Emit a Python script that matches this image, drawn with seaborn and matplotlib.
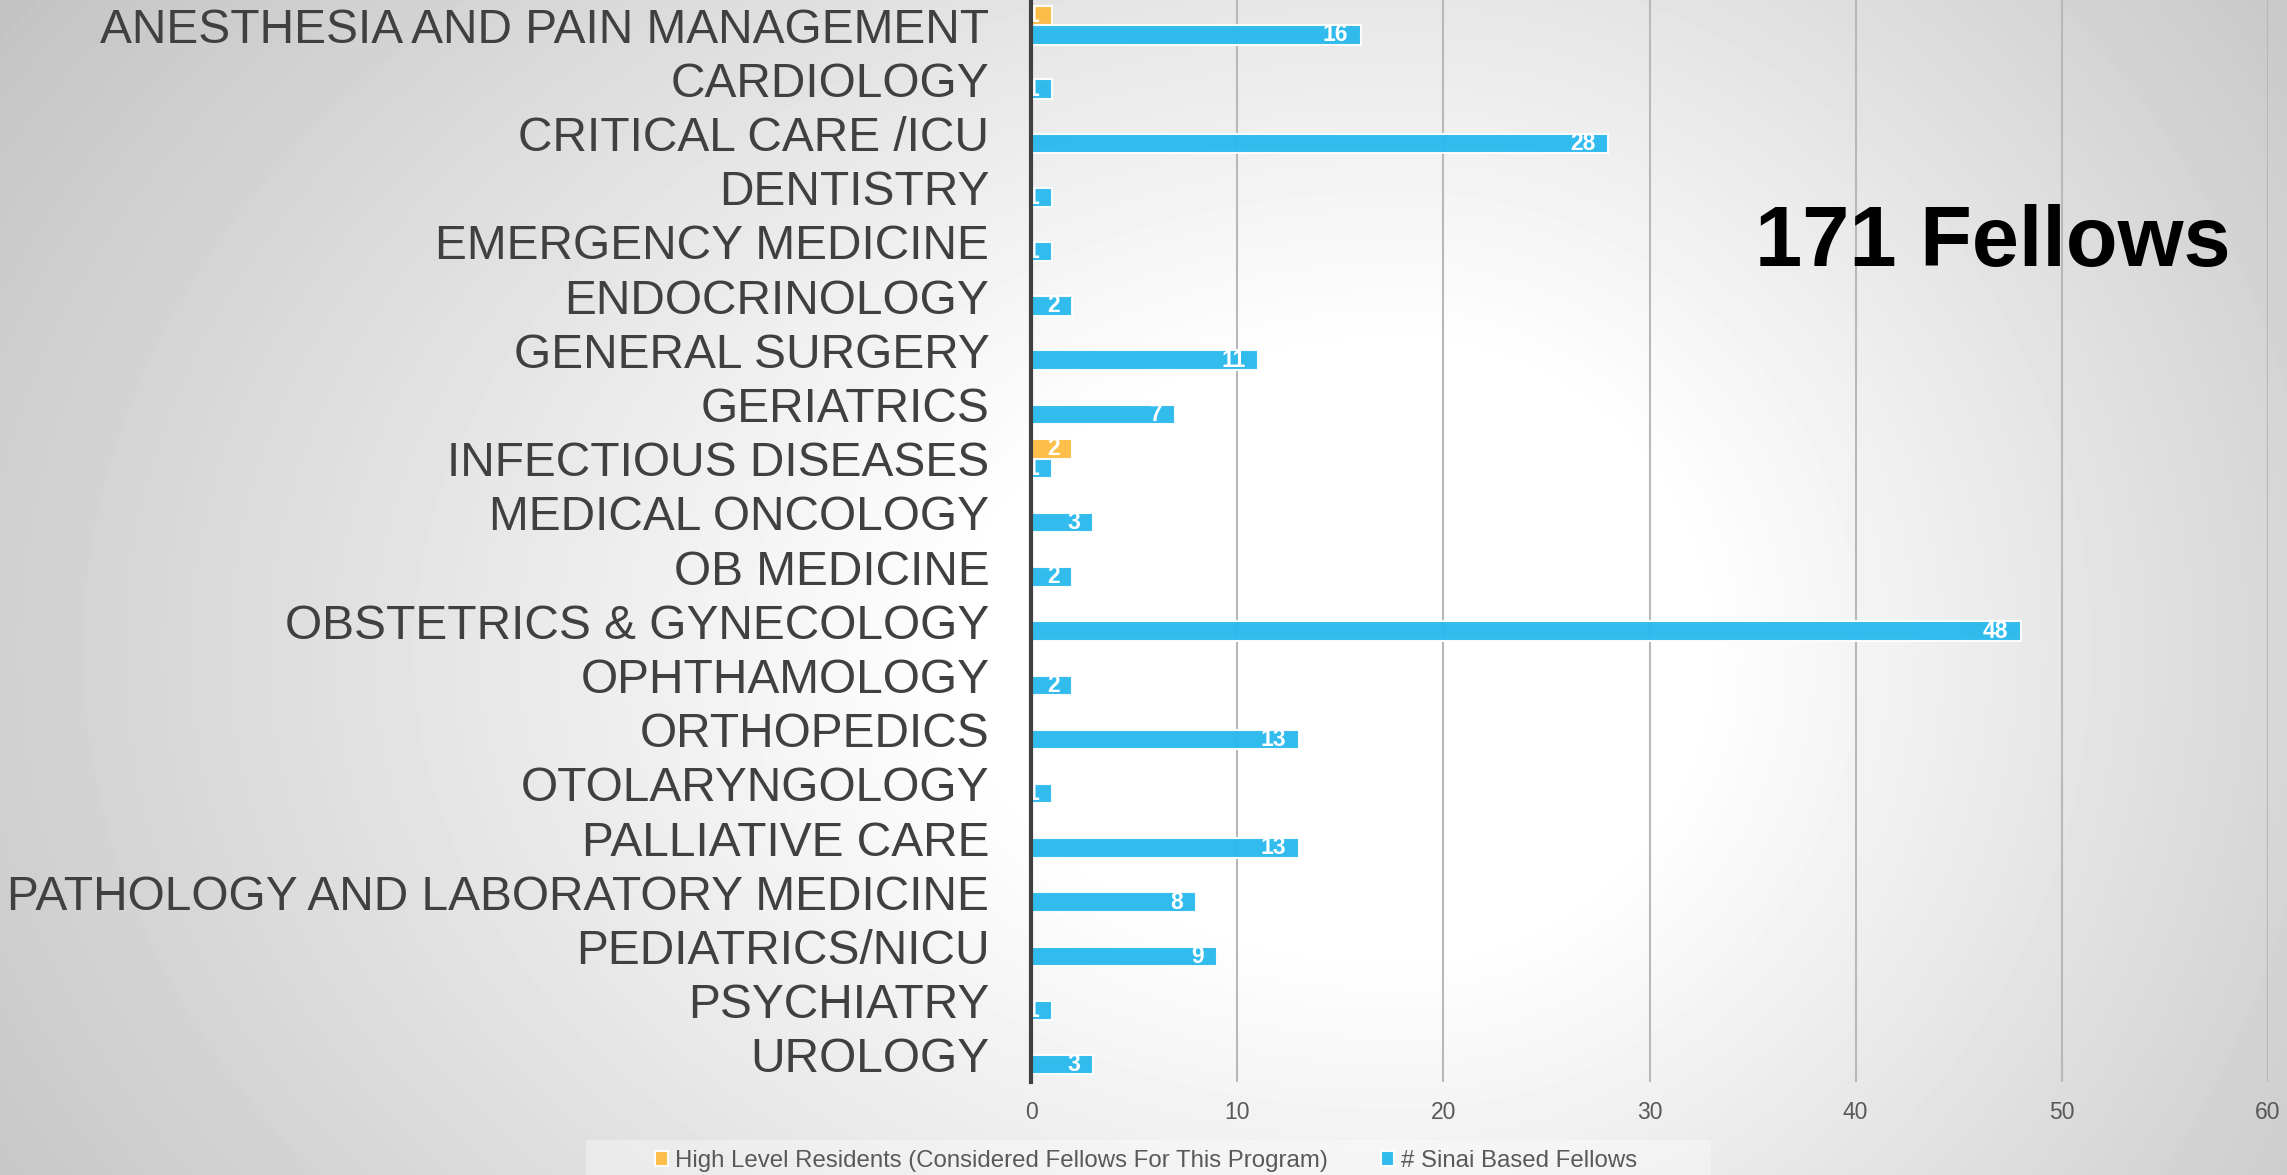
import numpy as np
import pandas as pd
import matplotlib
matplotlib.use("Agg")
import matplotlib.pyplot as plt
from matplotlib.patches import Rectangle
import seaborn as sns

sns.set_theme(style="white")
plt.rcParams['font.family'] = ['Liberation Sans', 'DejaVu Sans']

# data
specialties = [
    "ANESTHESIA AND PAIN MANAGEMENT", "CARDIOLOGY", "CRITICAL CARE /ICU", "DENTISTRY",
    "EMERGENCY MEDICINE", "ENDOCRINOLOGY", "GENERAL SURGERY", "GERIATRICS",
    "INFECTIOUS DISEASES", "MEDICAL ONCOLOGY", "OB MEDICINE", "OBSTETRICS & GYNECOLOGY",
    "OPHTHAMOLOGY", "ORTHOPEDICS", "OTOLARYNGOLOGY", "PALLIATIVE CARE",
    "PATHOLOGY AND LABORATORY MEDICINE", "PEDIATRICS/NICU", "PSYCHIATRY", "UROLOGY",
]
residents = [1, 0, 0, 0, 0, 0, 0, 0, 2, 0, 0, 0, 0, 0, 0, 0, 0, 0, 0, 0]
sinai_fellows = [16, 1, 28, 1, 1, 2, 11, 7, 1, 3, 2, 48, 2, 13, 1, 13, 8, 9, 1, 3]
series_names = ["High Level Residents (Considered Fellows For This Program)",
                "# Sinai Based Fellows"]
x_ticks = [0, 10, 20, 30, 40, 50, 60]
headline = "171 Fellows"

colors = ["#FDBB40", "#27B9EE"]
label_color = "#404040"
tick_color = "#595959"

df = pd.DataFrame({
    "specialty": specialties * 2,
    "series": [series_names[0]] * len(specialties) + [series_names[1]] * len(specialties),
    "count": residents + sinai_fellows,
})

W, H = 2287, 1175
fig = plt.figure(figsize=(W / 100, H / 100), dpi=100)

# radial grey background, white spot right of the axis
bg = fig.add_axes([0, 0, 1, 1], zorder=-10)
yy, xx = np.mgrid[0:H, 0:W]
cx, cy = 1400, 650
dx = np.where(xx < cx, (cx - xx) * 0.7, xx - cx)
r = np.hypot(dx, yy - cy)
shade = 1 - 0.00027 * np.clip(r - 300, 0, None)
shade = np.clip(shade, 0.74, 1)
bg.imshow(shade, cmap="gray", vmin=0, vmax=1, aspect="auto", interpolation="bilinear")
bg.axis("off")

# pale band behind the legend
fig.patches.append(Rectangle((586 / W, 0), 1125 / W, 35 / H, transform=fig.transFigure,
                             facecolor=(1, 1, 1, 0.35), edgecolor="none", zorder=-5))

ax = fig.add_axes([1031 / W, 1 - 1082 / H, 1237 / W, 1084 / H])
ax.set_facecolor("none")

sns.barplot(data=df, y="specialty", x="count", hue="series", hue_order=series_names,
            palette=colors, saturation=1, width=0.72, orient="h",
            edgecolor=(1, 1, 1, 0.35), linewidth=1.5, alpha=0.95, ax=ax, zorder=3)

# value labels inside the bar ends
for cont in ax.containers:
    for patch in cont:
        v = patch.get_width()
        if v <= 0:
            continue
        ax.annotate(f"{v:.0f}", xy=(v, patch.get_y() + patch.get_height() / 2),
                    xytext=(-9, 0), textcoords="offset points", ha="right", va="center",
                    color="white", fontsize=16.5, fontweight="bold", zorder=5, clip_on=True)

ax.set_xlim(0, 60)
ax.set_xticks(x_ticks)
ax.set_xlabel("")
ax.set_ylabel("")
ax.grid(axis="x", color="#b8b8b8", linewidth=1.5, zorder=0)
ax.grid(axis="y", visible=False)
ax.set_axisbelow(True)
for s in ["top", "right", "bottom"]:
    ax.spines[s].set_visible(False)
ax.spines["left"].set_color(label_color)
ax.spines["left"].set_linewidth(3)
ax.spines["left"].set_zorder(6)
ax.tick_params(axis="x", length=0, pad=14, labelsize=16.5, labelcolor=tick_color)
ax.tick_params(axis="y", length=0, pad=30, labelsize=34.5, labelcolor=label_color)

ax.get_legend().remove()
handles, labels = ax.get_legend_handles_labels()
leg = fig.legend(handles, labels, loc="center", bbox_to_anchor=(1146 / W, 1 - 1161 / H),
                 ncol=2, fontsize=17.3, frameon=False, handlelength=0.55, handleheight=0.6,
                 handletextpad=0.3, columnspacing=2.2)
for t in leg.get_texts():
    t.set_color(tick_color)

fig.text(1993 / W, 1 - 244 / H, headline, ha="center", va="center",
         fontsize=61, fontweight="bold", color="black")

fig.savefig("out.png", dpi=100)
